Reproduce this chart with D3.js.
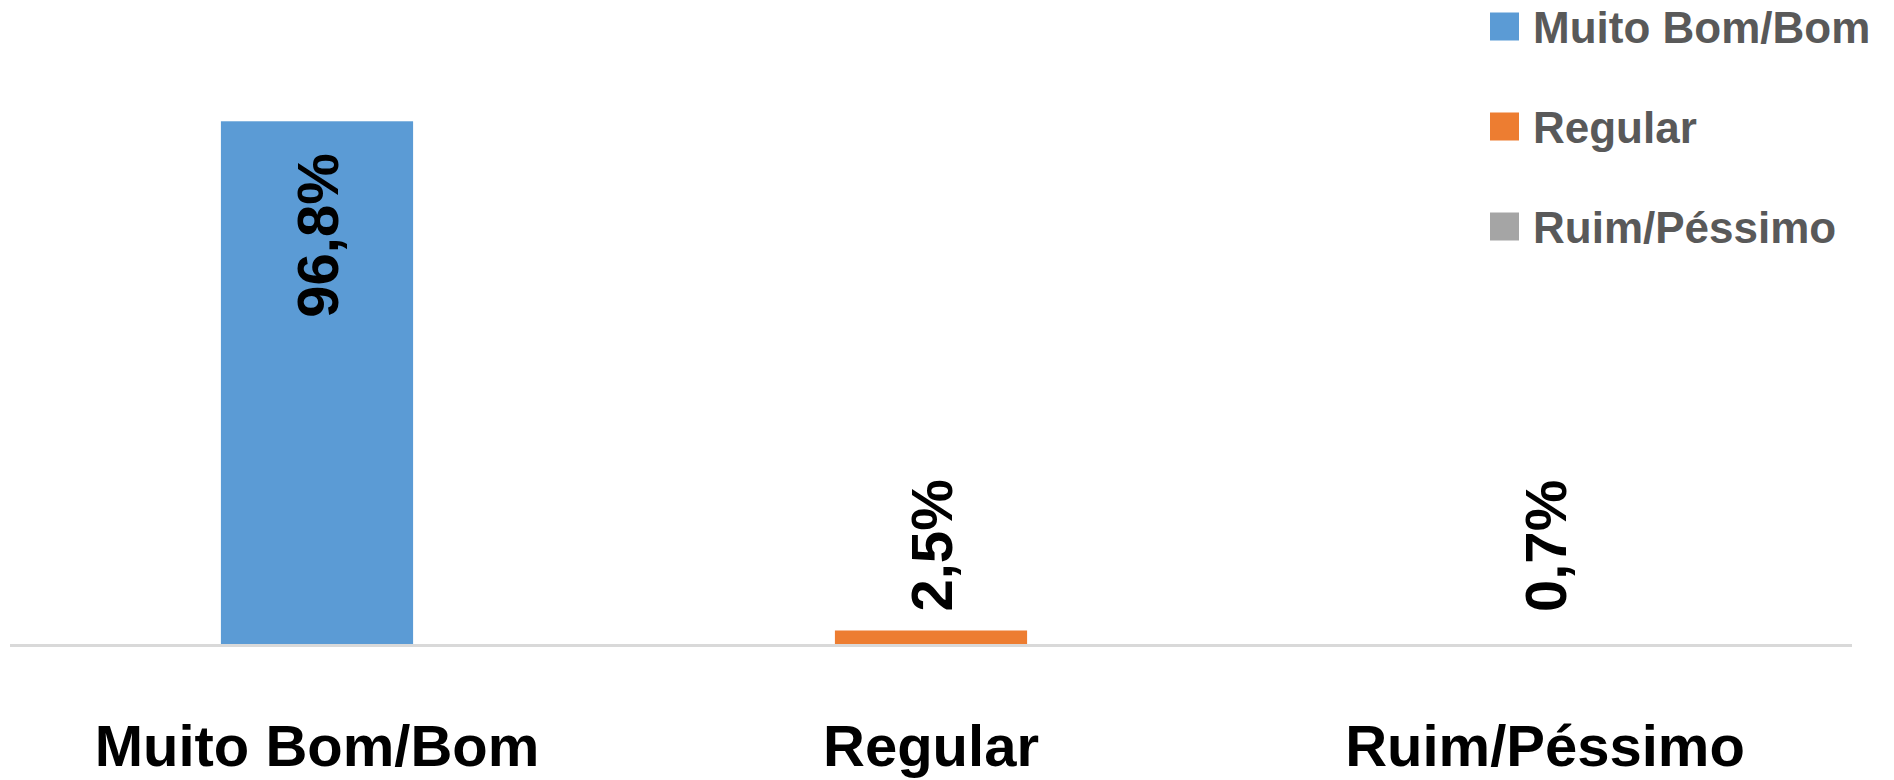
<!DOCTYPE html>
<html lang="pt">
<head>
    <meta charset="UTF-8">
    <title>Avaliação</title>
    <script src="https://d3js.org/d3.v7.min.js"></script>
    <style>
        body { margin: 0; background: #fff; font-family: "Liberation Sans", Arial, sans-serif; }
        .cat text { font-size: 58px; font-weight: bold; fill: #000; }
        .val { font-size: 58px; font-weight: bold; fill: #000; }
        .legend text { font-size: 44px; font-weight: bold; fill: #595959; }
    </style>
</head>
<body>
<svg width="1894" height="780"></svg>
<script>
    // chart data
    const categories = ["Muito Bom/Bom", "Regular", "Ruim/Péssimo"];
    const values = [96.8, 2.5, 0.7];
    const labels = ["96,8%", "2,5%", "0,7%"];
    const colors = ["#5b9bd5", "#ed7d31", "#a5a5a5"];
    // the grey bar does not show in the original, only its legend swatch
    const barFill = ["#5b9bd5", "#ed7d31", "none"];

    const svg = d3.select("svg");

    const x = d3.scaleBand()
        .domain(categories)
        .range([10, 1852])
        .paddingInner(0.687)
        .paddingOuter(0.3435);

    const y = d3.scaleLinear()
        .domain([0, 100])
        .range([644, 104]);

    // bars
    svg.selectAll(".bar")
        .data(values)
        .enter()
        .append("rect")
        .attr("class", "bar")
        .attr("x", (d, i) => x(categories[i]))
        .attr("width", x.bandwidth())
        .attr("y", d => y(d))
        .attr("height", d => y(0) - y(d))
        .attr("fill", (d, i) => barFill[i]);

    // baseline
    svg.append("line")
        .attr("x1", 10).attr("x2", 1852)
        .attr("y1", y(0) + 1.5).attr("y2", y(0) + 1.5)
        .attr("stroke", "#d9d9d9")
        .attr("stroke-width", 3);

    // value labels, rotated; inside the bar when it is tall enough
    const isInside = d => y(0) - y(d) > 200;
    svg.selectAll(".val")
        .data(values)
        .enter()
        .append("text")
        .attr("class", "val")
        .attr("transform", (d, i) => {
            const cx = x(categories[i]) + x.bandwidth() / 2;
            const ty = isInside(d) ? y(d) + 32 : Math.min(y(d) - 19, y(0) - 32);
            return `translate(${cx},${ty}) rotate(-90)`;
        })
        .attr("text-anchor", d => isInside(d) ? "end" : "start")
        .attr("dy", "0.36em")
        .text((d, i) => labels[i]);

    // category axis labels
    const cat = svg.append("g").attr("class", "cat");
    cat.selectAll("text")
        .data(categories)
        .enter()
        .append("text")
        .attr("x", d => x(d) + x.bandwidth() / 2)
        .attr("y", 766)
        .attr("text-anchor", "middle")
        .text(d => d);

    // legend
    const legend = svg.append("g").attr("class", "legend")
        .selectAll("g")
        .data(categories)
        .enter()
        .append("g")
        .attr("transform", (d, i) => `translate(1490,${26.5 + i * 100})`);

    legend.append("rect")
        .attr("x", 0).attr("y", -14)
        .attr("width", 29).attr("height", 28)
        .attr("fill", (d, i) => colors[i]);

    legend.append("text")
        .attr("x", 43)
        .attr("y", 16)
        .text(d => d);
</script>
</body>
</html>
